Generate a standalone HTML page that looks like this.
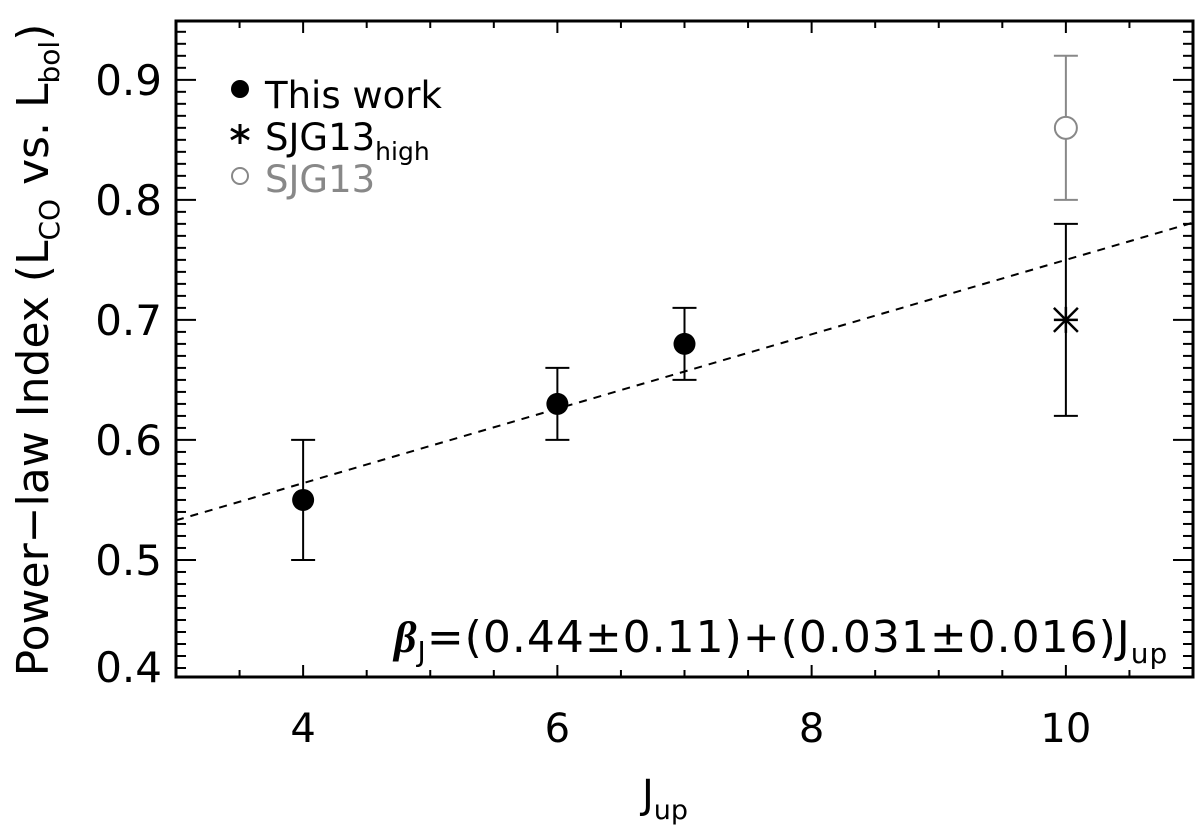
<!DOCTYPE html>
<html><head><meta charset="utf-8"><style>
html,body{margin:0;padding:0;background:#fff}
svg text{font-family:"DejaVu Sans","Liberation Sans",sans-serif}
</style></head><body>
<svg id="chart" width="1200" height="830" viewBox="0 0 1200 830">
<g id="ticks"></g>
<rect x="176" y="21" width="1017" height="656" fill="none" stroke="#000" stroke-width="3"/>
<line id="fit" stroke="#000" stroke-width="2" stroke-dasharray="8,7"/>
<g id="marks"></g>
<g>
<circle cx="240" cy="89" r="9" fill="#000"/>
<text x="265" y="108" font-size="37">This work</text>
<g stroke="#000" stroke-width="3"><line x1="240" y1="124" x2="240" y2="144"/><line x1="231" y1="129" x2="249" y2="139"/><line x1="231" y1="139" x2="249" y2="129"/></g>
<text x="265" y="150" font-size="37">SJG13<tspan font-size="25" dy="10">high</tspan></text>
<circle cx="240" cy="176" r="8" fill="none" stroke="#888" stroke-width="2"/>
<text x="265" y="192" font-size="37" fill="#888">SJG13</text>
</g>
<text x="394" y="652" font-size="44" letter-spacing="1"><tspan font-weight="bold" font-style="italic" font-family="Liberation Serif">β</tspan><tspan font-size="28" dy="9">J</tspan><tspan dy="-9">=(0.44±0.11)+(0.031±0.016)J</tspan><tspan font-size="28" dy="11">up</tspan></text>
<text x="665" y="808" font-size="40" text-anchor="middle">J<tspan font-size="27" dy="11">up</tspan></text>
<text transform="translate(48,350) rotate(-90)" font-size="44" text-anchor="middle">Power−law Index (L<tspan font-size="28" dy="11">CO</tspan><tspan dy="-11"> vs. L</tspan><tspan font-size="28" dy="11">bol</tspan><tspan dy="-11">)</tspan></text>
</svg>
<script>
const xTicks=[4,6,8,10];
const yTicks=[0.4,0.5,0.6,0.7,0.8,0.9];
const thisJ=[4,6,7];
const thisVal=[0.55,0.63,0.68];
const thisErr=[0.05,0.03,0.03];
const highJ=[10];
const highVal=[0.70];
const highErr=[0.08];
const sjgJ=[10];
const sjgVal=[0.86];
const sjgErr=[0.06];
const fitA=0.44, fitB=0.031;
const X0=176,X1=1193,Y0=677,Y1=21,xmin=3,xmax=11,ymin=0.4025,ymax=0.949;
const sx=v=>X0+(v-xmin)/(xmax-xmin)*(X1-X0);
const sy=v=>Y0-(v-ymin)/(ymax-ymin)*(Y0-Y1);
const NS="http://www.w3.org/2000/svg";
function mk(t,a,p){const e=document.createElementNS(NS,t);for(const k in a)e.setAttribute(k,a[k]);p.appendChild(e);return e;}
const tg=document.getElementById('ticks'),mg=document.getElementById('marks');
for(let v=3;v<=11.001;v+=0.5){const x=sx(v);const major=Math.abs(v-Math.round(v/2)*2)<1e-6;const L=major?12:7;
const a=mk('line',{x1:x,x2:x,y1:Y0,y2:Y0-L,stroke:'#000','stroke-width':2},tg);
const b=mk('line',{x1:x,x2:x,y1:Y1,y2:Y1+L,stroke:'#000','stroke-width':2},tg);}
for(let i=41;i<=94;i++){const v=i/100;const y=sy(v);const major=i%10===0;const L=major?20:10;
const a=mk('line',{x1:X0,x2:X0+L,y1:y,y2:y,stroke:'#000','stroke-width':2},tg);
const b=mk('line',{x1:X1,x2:X1-L,y1:y,y2:y,stroke:'#000','stroke-width':2},tg);}
xTicks.forEach(v=>{const t=mk('text',{x:sx(v),y:742,'font-size':40,'text-anchor':'middle'},tg);t.textContent=v;
});
yTicks.forEach(v=>{const t=mk('text',{x:162,y:Math.min(sy(v),667)+15,'font-size':42,'text-anchor':'end'},tg);t.textContent=v.toFixed(1);
});
const f=document.getElementById('fit');f.setAttribute('x1',sx(xmin));f.setAttribute('y1',sy(fitA+fitB*xmin));f.setAttribute('x2',sx(xmax));f.setAttribute('y2',sy(fitA+fitB*xmax));
function err(j,v,e,c){const x=sx(j);
const l=mk('line',{x1:x,x2:x,y1:sy(v-e),y2:sy(v+e),stroke:c,'stroke-width':2},mg);
[v-e,v+e].forEach(w=>{const c2=mk('line',{x1:x-12,x2:x+12,y1:sy(w),y2:sy(w),stroke:c,'stroke-width':2},mg);});}
thisJ.forEach((j,i)=>{err(j,thisVal[i],thisErr[i],'#000');const c=mk('circle',{cx:sx(j),cy:sy(thisVal[i]),r:11,fill:'#000'},mg);
});
highJ.forEach((j,i)=>{err(j,highVal[i],highErr[i],'#000');const x=sx(j),y=sy(highVal[i]);const g=mk('g',{stroke:'#000','stroke-width':2.5},mg);

mk('line',{x1:x,x2:x,y1:y-13,y2:y+13},g);mk('line',{x1:x-12,x2:x+12,y1:y-12,y2:y+12},g);mk('line',{x1:x-12,x2:x+12,y1:y+12,y2:y-12},g);mk('line',{x1:x-12,x2:x+12,y1:y,y2:y},g);});
sjgJ.forEach((j,i)=>{err(j,sjgVal[i],sjgErr[i],'#888');const c=mk('circle',{cx:sx(j),cy:sy(sjgVal[i]),r:11,fill:'#fff',stroke:'#888','stroke-width':2},mg);
});
</script>
</body></html>
